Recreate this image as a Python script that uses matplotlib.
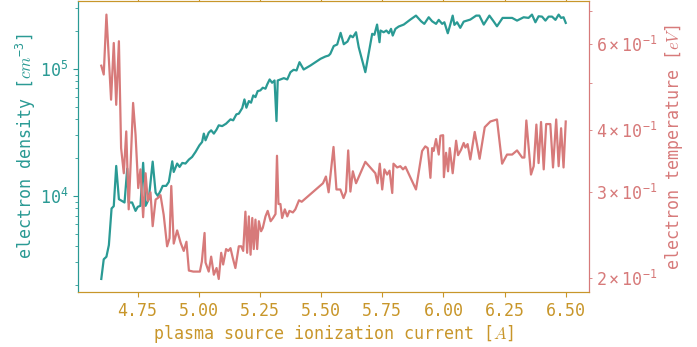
import matplotlib
matplotlib.use("Agg")
import matplotlib.pyplot as plt

# plasma source ionization current [A] and electron density [cm^-3]
current_ne = [4.602, 4.612, 4.623, 4.633, 4.644, 4.653, 4.663, 4.674, 4.688, 4.697,
              4.708, 4.714, 4.728, 4.742, 4.751, 4.762, 4.773, 4.783, 4.796, 4.812,
              4.824, 4.833, 4.844, 4.853, 4.867, 4.878, 4.892, 4.898, 4.912, 4.922,
              4.933, 4.946, 4.960, 4.973, 4.987, 5.003, 5.014, 5.021, 5.028, 5.041,
              5.051, 5.062, 5.073, 5.082, 5.096, 5.112, 5.130, 5.141, 5.154, 5.164,
              5.178, 5.187, 5.195, 5.205, 5.214, 5.223, 5.232, 5.241, 5.252, 5.262,
              5.273, 5.280, 5.290, 5.300, 5.310, 5.318, 5.323, 5.334, 5.348, 5.362,
              5.375, 5.388, 5.400, 5.412, 5.429, 5.457, 5.498, 5.518, 5.531, 5.538,
              5.552, 5.566, 5.580, 5.593, 5.608, 5.620, 5.630, 5.643, 5.654, 5.681,
              5.709, 5.718, 5.729, 5.739, 5.743, 5.756, 5.767, 5.777, 5.786, 5.793,
              5.804, 5.817, 5.838, 5.865, 5.888, 5.909, 5.922, 5.940, 5.954, 5.970,
              5.981, 5.995, 6.004, 6.018, 6.029, 6.038, 6.045, 6.056, 6.069, 6.083,
              6.110, 6.134, 6.147, 6.165, 6.188, 6.205, 6.219, 6.242, 6.281, 6.301,
              6.328, 6.348, 6.362, 6.376, 6.389, 6.403, 6.417, 6.430, 6.444, 6.458,
              6.471, 6.481, 6.491, 6.500]
density = [2220, 3170, 3320, 4100, 7960, 8300, 17200, 9420, 9090, 8870,
           16400, 8870, 8870, 7620, 8200, 8350, 18200, 8350, 9420, 18600,
           10600, 10000, 10950, 11980, 11980, 12880, 18700, 15420, 17960, 16900,
           18160, 17960, 19300, 20230, 22150, 25000, 26550, 30900, 27370, 31450,
           32800, 30900, 33200, 35900, 35400, 37000, 40000, 39300, 43800, 44350,
           49100, 57400, 49400, 55700, 54100, 61700, 59850, 66700, 67600, 70950,
           69700, 75300, 82400, 77600, 80900, 38800, 80900, 82400, 84400, 82400,
           94000, 98200, 97000, 112700, 98700, 106200, 119800, 124900, 127100, 131200,
           151000, 155200, 191700, 156000, 163700, 182500, 177000, 193800, 147800, 94000,
           188300, 184900, 222700, 161800, 199900, 193800, 199900, 190300, 206100, 182500,
           206100, 214800, 222700, 243800, 262000, 236400, 225600, 254300, 236400, 225600,
           242500, 225600, 232200, 190300, 225600, 262000, 221500, 232200, 209900, 235000,
           243800, 262000, 262000, 222700, 262000, 236400, 215900, 251300, 251300, 239300,
           254300, 251300, 266800, 232200, 258800, 257300, 239300, 257300, 257300, 242500,
           266800, 251300, 254300, 229600]

# plasma source ionization current [A] and electron temperature [eV]
current_te = [4.602, 4.612, 4.623, 4.642, 4.653, 4.663, 4.674, 4.683, 4.694, 4.704,
              4.714, 4.721, 4.732, 4.742, 4.753, 4.762, 4.773, 4.783, 4.792, 4.803,
              4.812, 4.824, 4.833, 4.844, 4.857, 4.871, 4.881, 4.888, 4.898, 4.912,
              4.926, 4.939, 4.950, 4.960, 4.978, 5.005, 5.013, 5.024, 5.028, 5.041,
              5.051, 5.062, 5.073, 5.082, 5.092, 5.100, 5.112, 5.121, 5.130, 5.139,
              5.150, 5.164, 5.174, 5.182, 5.191, 5.198, 5.205, 5.212, 5.219, 5.225,
              5.232, 5.239, 5.246, 5.255, 5.262, 5.273, 5.282, 5.294, 5.304, 5.314,
              5.320, 5.326, 5.334, 5.341, 5.352, 5.362, 5.371, 5.385, 5.395, 5.410,
              5.421, 5.508, 5.520, 5.531, 5.551, 5.563, 5.579, 5.592, 5.602, 5.611,
              5.620, 5.630, 5.643, 5.681, 5.722, 5.731, 5.740, 5.750, 5.759, 5.770,
              5.780, 5.791, 5.796, 5.811, 5.824, 5.835, 5.845, 5.888, 5.913, 5.926,
              5.936, 5.947, 5.954, 5.960, 5.970, 5.981, 5.988, 5.999, 6.002, 6.011,
              6.019, 6.026, 6.038, 6.052, 6.060, 6.072, 6.083, 6.090, 6.099, 6.110,
              6.128, 6.148, 6.169, 6.192, 6.219, 6.240, 6.260, 6.281, 6.301, 6.322,
              6.331, 6.339, 6.358, 6.369, 6.380, 6.389, 6.399, 6.410, 6.420, 6.437,
              6.448, 6.461, 6.471, 6.481, 6.491, 6.500]
temperature = [0.542, 0.520, 0.689, 0.462, 0.603, 0.451, 0.608, 0.368, 0.327, 0.398,
               0.276, 0.333, 0.455, 0.392, 0.305, 0.333, 0.266, 0.327, 0.287, 0.299,
               0.255, 0.289, 0.291, 0.295, 0.269, 0.232, 0.241, 0.308, 0.235, 0.250,
               0.236, 0.227, 0.237, 0.207, 0.206, 0.206, 0.216, 0.247, 0.215, 0.206,
               0.221, 0.203, 0.2095, 0.199, 0.225, 0.213, 0.229, 0.227, 0.230, 0.220,
               0.2095, 0.232, 0.232, 0.227, 0.273, 0.225, 0.267, 0.223, 0.265, 0.229,
               0.263, 0.229, 0.261, 0.249, 0.253, 0.267, 0.274, 0.261, 0.265, 0.270,
               0.355, 0.283, 0.283, 0.265, 0.276, 0.267, 0.274, 0.272, 0.276, 0.288,
               0.286, 0.312, 0.322, 0.299, 0.370, 0.303, 0.303, 0.291, 0.300, 0.364,
               0.300, 0.330, 0.312, 0.345, 0.327, 0.312, 0.342, 0.303, 0.333, 0.325,
               0.331, 0.298, 0.342, 0.336, 0.338, 0.333, 0.337, 0.303, 0.363, 0.371,
               0.368, 0.320, 0.368, 0.363, 0.384, 0.357, 0.390, 0.391, 0.321, 0.360,
               0.330, 0.368, 0.327, 0.381, 0.356, 0.365, 0.377, 0.369, 0.375, 0.349,
               0.397, 0.350, 0.406, 0.417, 0.421, 0.342, 0.357, 0.357, 0.364, 0.352,
               0.352, 0.419, 0.325, 0.338, 0.411, 0.343, 0.416, 0.333, 0.412, 0.412,
               0.336, 0.421, 0.338, 0.404, 0.336, 0.417]

teal = "#2a9a94"
rose = "#d77a7a"
gold = "#c8962a"

plt.rcParams["font.family"] = "DejaVu Sans Mono"
plt.rcParams["mathtext.fontset"] = "custom"
plt.rcParams["mathtext.rm"] = "DejaVu Sans Mono"
plt.rcParams["mathtext.it"] = "cmmi10"
plt.rcParams["mathtext.default"] = "regular"

fig, ax = plt.subplots(figsize=(6.97, 3.47), dpi=100)
fig.subplots_adjust(left=0.112, right=0.845, top=0.996, bottom=0.158)

ax.plot(current_ne, density, color=teal, lw=1.6)
ax.set_yscale("log")
ax.set_xlabel(r"plasma source ionization current [$\mathit{A}$]", color=gold,
              fontsize=12, labelpad=2)
ax.set_ylabel(r"electron density [$\mathit{cm}^{-3}$]", color=teal,
              fontsize=12, labelpad=1)

ax2 = ax.twinx()
ax2.plot(current_te, temperature, color=rose, lw=1.6)
ax2.set_yscale("log")
ax2.set_ylabel(r"electron temperature [$\mathit{eV}$]", color=rose, fontsize=12)

for a in (ax, ax2):
    a.spines["top"].set_color(gold)
    a.spines["bottom"].set_color(gold)
    a.spines["left"].set_color(teal)
    a.spines["right"].set_color(rose)

ax.tick_params(axis="x", colors=gold, labelsize=12, top=True)
ax.tick_params(axis="y", which="both", colors=teal, labelsize=12)
ax2.tick_params(axis="y", which="both", colors=rose, labelsize=12)
ax.set_xticks([4.75, 5.00, 5.25, 5.50, 5.75, 6.00, 6.25, 6.50])

fig.savefig("out.png", dpi=100)
